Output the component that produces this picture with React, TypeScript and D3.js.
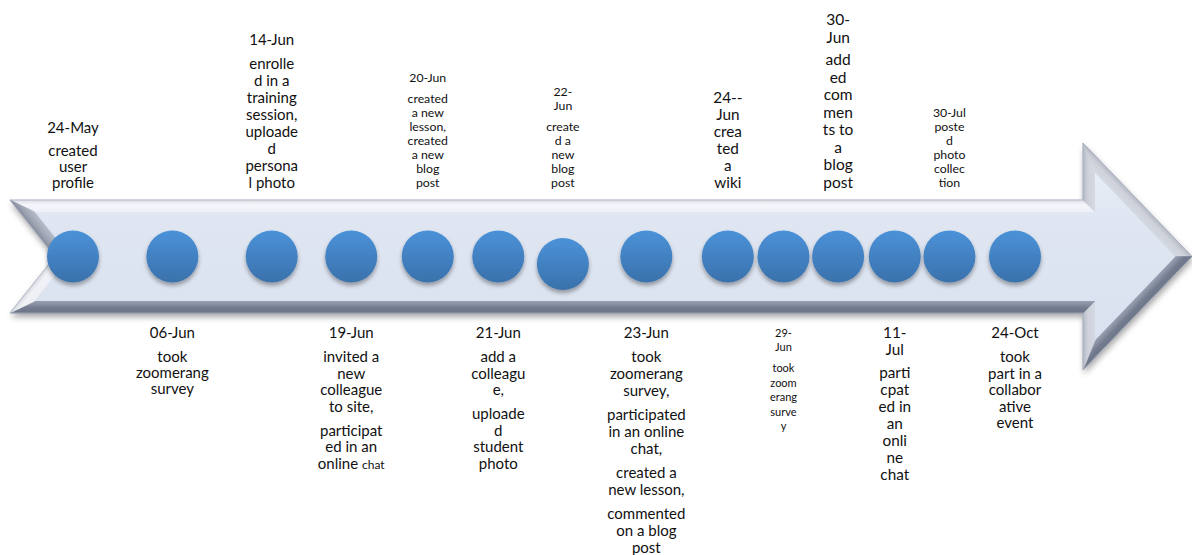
import React from "react";
import * as d3 from "d3";

// ---------- DATA ----------
const eventDateLines: string[][] = [
  ["24-May"], ["06-Jun"], ["14-Jun"], ["19-Jun"], ["20-Jun"], ["21-Jun"], ["22-", "Jun"],
  ["23-Jun"], ["24--", "Jun"], ["29-", "Jun"], ["30-", "Jun"], ["11-", "Jul"], ["30-Jul"], ["24-Oct"],
];

const eventNotes: string[][][] = [
  [["created", "user", "profile"]],
  [["took", "zoomerang", "survey"]],
  [["enrolle", "d in a", "training", "session,", "uploade", "d", "persona", "l photo"]],
  [["invited a", "new", "colleague", "to site,"], ["participat", "ed in an", "online |chat"]],
  [["created", "a new", "lesson,", "created", "a new", "blog", "post"]],
  [["add a", "colleagu", "e,"], ["uploade", "d", "student", "photo"]],
  [["create", "d a", "new", "blog", "post"]],
  [["took", "zoomerang", "survey,"], ["participated", "in an online", "chat,"], ["created a", "new lesson,"], ["commented", "on a blog", "post"]],
  [["crea", "ted", "a", "wiki"]],
  [["took", "zoom", "erang", "surve", "y"]],
  [["add", "ed", "com", "men", "ts to", "a", "blog", "post"]],
  [["parti", "cpat", "ed in", "an", "onli", "ne", "chat"]],
  [["poste", "d", "photo", "collec", "tion"]],
  [["took", "part in a", "collabor", "ative", "event"]],
];

// position of each event along the timeline (abstract units)
const eventSlots = [0, 1.0, 2.0, 2.8, 3.57, 4.28, 4.93, 5.77, 6.59, 7.15, 7.7, 8.27, 8.82, 9.48];
const eventSides = ["above", "below", "above", "below", "above", "below", "above", "below", "above", "below", "above", "below", "above", "below"];
const eventDotDrop = [0, 0, 0, 0, 0, 0, 1, 0, 0, 0, 0, 0, 0, 0];

// ---------- STYLES ----------
const labelFontSize = [15, 15, 15, 15, 12.3, 15, 12.3, 15, 15.3, 11, 15.5, 15.3, 12.3, 15];
const labelLineHeight = [16, 16, 17, 16.5, 14, 16.5, 14, 17, 17, 14.5, 17.5, 17, 14, 16.5];
const labelParaGap = [7, 8, 7, 7.5, 7, 7.5, 7, 7, 0, 6.5, 5, 6, 0, 7.5];

const W = 1192;
const H = 555;
const FONT = "Lato, 'Open Sans', sans-serif";

type P = [number, number];

function insetPolygon(pts: P[], b: number): P[] {
  const n = pts.length;
  const lines = pts.map((p, i) => {
    const q = pts[(i + 1) % n];
    const dx = q[0] - p[0], dy = q[1] - p[1];
    const len = Math.hypot(dx, dy);
    const nx = -dy / len, ny = dx / len; // inward normal (clockwise on screen)
    return { p: [p[0] + nx * b, p[1] + ny * b] as P, d: [dx / len, dy / len] as P };
  });
  return pts.map((_, i) => {
    const l1 = lines[(i - 1 + n) % n];
    const l2 = lines[i];
    const det = l1.d[0] * -l2.d[1] - l1.d[1] * -l2.d[0];
    const rx = l2.p[0] - l1.p[0], ry = l2.p[1] - l1.p[1];
    const t = (rx * -l2.d[1] - ry * -l2.d[0]) / det;
    return [l1.p[0] + l1.d[0] * t, l1.p[1] + l1.d[1] * t] as P;
  });
}

export default function App() {
  const x = d3.scaleLinear().domain([0, 9.48]).range([73, 1015]);

  // arrow geometry
  const left = 10, bodyTop = 200, bodyBottom = 313, notchX = 55;
  const headX = 1083, headTop = 143, headBottom = 370, tipX = 1192;
  const midY = (bodyTop + bodyBottom) / 2;
  const yDot = d3.scaleLinear().domain([0, 1]).range([midY, midY + 7.5]);

  const outer: P[] = [
    [left, bodyTop], [headX, bodyTop], [headX, headTop], [tipX, midY],
    [headX, headBottom], [headX, bodyBottom], [left, bodyBottom], [notchX, midY],
  ];
  const bevel = 12;
  const inner = insetPolygon(outer, bevel);
  const line = d3.line<P>().curve(d3.curveLinearClosed);

  const L = [-0.4, -1];
  const Ll = Math.hypot(L[0], L[1]);
  const shade = d3.interpolateRgb("#6d768a", "#fafbfe");

  const facets = outer.map((p, i) => {
    const q = outer[(i + 1) % outer.length];
    const dx = q[0] - p[0], dy = q[1] - p[1];
    const len = Math.hypot(dx, dy);
    const ox = dy / len, oy = -dx / len; // outward normal
    const s = (ox * L[0] + oy * L[1]) / Ll;
    const t = (s + 1) / 2;
    const mx = (p[0] + q[0]) / 2, my = (p[1] + q[1]) / 2;
    return {
      pts: [p, q, inner[(i + 1) % outer.length], inner[i]] as P[],
      x1: mx, y1: my, x2: mx - ox * bevel, y2: my - oy * bevel,
      c0: shade(Math.max(0, t - 0.18)),
      c1: shade(t),
      c2: d3.interpolateRgb(shade(t), "#e2e8f3")(0.35),
    };
  });

  const labels = eventDateLines.map((dateLines, i) => {
    const fs = labelFontSize[i], lh = labelLineHeight[i], gap = labelParaGap[i];
    const groups = [dateLines, ...eventNotes[i]];
    const rows: { text: string; y: number }[] = [];
    let y = 0;
    let first = true;
    groups.forEach((g, gi) => {
      g.forEach((t, li) => {
        if (!first) y += lh;
        if (gi > 0 && li === 0) y += gap;
        first = false;
        rows.push({ text: t, y });
      });
    });
    const shift = eventSides[i] === "above" ? 182.5 - rows[rows.length - 1].y : 333 - rows[0].y;
    return { x: x(eventSlots[i]), fs, rows: rows.map((r) => ({ ...r, y: r.y + shift })) };
  });

  return (
    <svg width={W} height={H} style={{ position: "absolute", left: 0, top: 0, background: "#fff" }} fontFamily={FONT}>
      <defs>
        <filter id="arrowShadow" x="-5%" y="-20%" width="110%" height="150%">
          <feDropShadow dx="1" dy="4" stdDeviation="3" floodColor="#000" floodOpacity="0.35" />
        </filter>
        <filter id="dotShadow" x="-30%" y="-30%" width="160%" height="170%">
          <feDropShadow dx="0" dy="3" stdDeviation="2.2" floodColor="#000" floodOpacity="0.35" />
        </filter>
        <linearGradient id="faceGrad" x1="0" y1="0" x2="0" y2="1">
          <stop offset="0" stopColor="#e8edf6" />
          <stop offset="0.3" stopColor="#dfe6f2" />
          <stop offset="1" stopColor="#dae2ef" />
        </linearGradient>
        <linearGradient id="dotGrad" x1="0" y1="0" x2="0" y2="1">
          <stop offset="0" stopColor="#4b92d9" />
          <stop offset="1" stopColor="#3a71ab" />
        </linearGradient>
        {facets.map((f, i) => (
          <linearGradient key={i} id={`facet${i}`} gradientUnits="userSpaceOnUse" x1={f.x1} y1={f.y1} x2={f.x2} y2={f.y2}>
            <stop offset="0" stopColor={f.c0} />
            <stop offset="0.4" stopColor={f.c1} />
            <stop offset="1" stopColor={f.c2} />
          </linearGradient>
        ))}
      </defs>

      <g>
        <path d={line(outer) || ""} fill="#c3cad8" filter="url(#arrowShadow)" />
        {facets.map((f, i) => (
          <path key={i} d={line(f.pts) || ""} fill={`url(#facet${i})`} stroke={`url(#facet${i})`} strokeWidth={0.6} />
        ))}
        <path d={line(inner) || ""} fill="url(#faceGrad)" />
        <path d={line(outer) || ""} fill="none" stroke="#a7afbf" strokeWidth={0.8} />
      </g>

      <g>
        {eventSlots.map((s, i) => (
          <circle key={i} cx={x(s)} cy={yDot(eventDotDrop[i])} r={26} fill="url(#dotGrad)" filter="url(#dotShadow)" />
        ))}
      </g>

      <g fill="#111" textAnchor="middle">
        {labels.map((lab, i) => (
          <g key={i}>
            {lab.rows.map((r, j) => {
              const parts = r.text.split("|");
              return (
                <text key={j} x={lab.x} y={r.y} dy="0.35em" fontSize={lab.fs}>
                  {parts[0]}
                  {parts.length > 1 ? <tspan fontSize={lab.fs * 0.8}>{parts[1]}</tspan> : null}
                </text>
              );
            })}
          </g>
        ))}
      </g>
    </svg>
  );
}
